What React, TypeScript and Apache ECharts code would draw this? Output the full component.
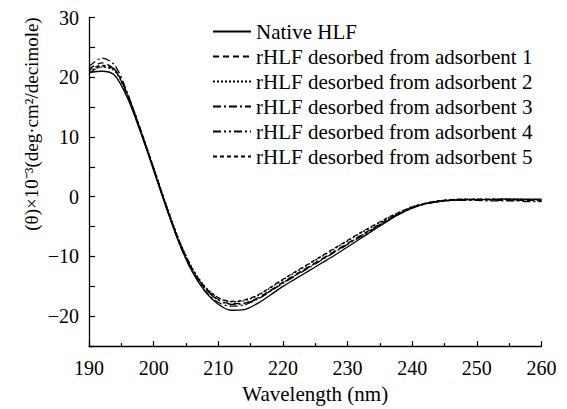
import React, { useEffect, useRef } from "react";
import * as echarts from "echarts";

const wavelengths = [190, 192, 194, 196, 198, 200, 202, 204, 206, 208, 210, 212, 214, 216, 218, 220, 222, 224, 226, 228, 230, 232, 234, 236, 238, 240, 242, 244, 246, 248, 250, 252, 254, 256, 258, 260];

const nativeHLF = [20.8, 21.0, 20.3, 16.4, 10.7, 4.4, -2.0, -7.9, -12.6, -15.9, -18.0, -19.0, -18.9, -17.9, -16.5, -15.0, -13.7, -12.4, -11.1, -9.8, -8.4, -7.0, -5.6, -4.2, -2.9, -1.9, -1.2, -0.8, -0.6, -0.5, -0.5, -0.5, -0.4, -0.4, -0.4, -0.4];
const ads1 = [21.4, 22.4, 21.2, 16.8, 11.0, 4.6, -1.8, -7.7, -12.3, -15.4, -17.2, -17.9, -17.8, -17.0, -15.7, -14.3, -13.0, -11.7, -10.4, -9.1, -7.8, -6.5, -5.2, -3.9, -2.8, -1.8, -1.2, -0.8, -0.6, -0.5, -0.5, -0.5, -0.5, -0.6, -0.6, -0.6];
const ads2 = [21.0, 21.7, 21.0, 16.9, 11.2, 4.9, -1.5, -7.4, -12.0, -15.1, -16.9, -17.6, -17.4, -16.6, -15.3, -13.9, -12.6, -11.3, -10.0, -8.7, -7.4, -6.1, -4.9, -3.7, -2.6, -1.7, -1.1, -0.7, -0.5, -0.4, -0.4, -0.4, -0.4, -0.4, -0.5, -0.5];
const ads3 = [21.8, 23.2, 22.0, 17.2, 11.1, 4.6, -1.9, -7.9, -12.6, -15.8, -17.7, -18.3, -18.1, -17.2, -15.9, -14.5, -13.2, -11.9, -10.6, -9.3, -8.0, -6.7, -5.4, -4.1, -2.9, -1.9, -1.2, -0.8, -0.6, -0.6, -0.6, -0.7, -0.7, -0.7, -0.8, -0.8];
const ads4 = [20.6, 21.8, 21.3, 17.0, 11.0, 4.7, -1.7, -7.6, -12.2, -15.4, -17.3, -18.0, -17.9, -17.1, -15.8, -14.4, -13.1, -11.8, -10.5, -9.2, -7.9, -6.6, -5.3, -4.0, -2.8, -1.8, -1.2, -0.8, -0.6, -0.5, -0.5, -0.5, -0.6, -0.6, -0.6, -0.7];
const ads5 = [21.2, 22.0, 21.3, 17.0, 11.1, 4.8, -1.6, -7.5, -12.1, -15.2, -16.9, -17.5, -17.3, -16.5, -15.2, -13.8, -12.5, -11.2, -9.9, -8.6, -7.3, -6.0, -4.8, -3.6, -2.6, -1.7, -1.1, -0.7, -0.5, -0.4, -0.4, -0.4, -0.4, -0.5, -0.5, -0.5];

const seriesNames = [
  "Native HLF",
  "rHLF desorbed from adsorbent 1",
  "rHLF desorbed from adsorbent 2",
  "rHLF desorbed from adsorbent 3",
  "rHLF desorbed from adsorbent 4",
  "rHLF desorbed from adsorbent 5",
];
const seriesValues = [nativeHLF, ads1, ads2, ads3, ads4, ads5];
const dashTypes: any[] = ["solid", [6, 4], [2, 2], [8, 3, 2, 3], [8, 3, 2, 3, 2, 3], [4, 3]];

const xTicks = [190, 200, 210, 220, 230, 240, 250, 260];
const yTicks = [-20, -10, 0, 10, 20, 30];

const FONT = "'Liberation Serif', 'Times New Roman', serif";

export default function App() {
  const ref = useRef<HTMLDivElement>(null);
  useEffect(() => {
    document.body.style.margin = "0";
    if (!ref.current) return;
    const chart = echarts.init(ref.current, undefined, { renderer: "svg" });
    const option: any = {
      animation: false,
      backgroundColor: "#fff",
      grid: { left: 89, right: 25.5, top: 17.5, bottom: 59.7, containLabel: false },
      legend: {
        orient: "vertical",
        left: 207,
        top: 16,
        itemWidth: 38,
        itemHeight: 14,
        itemGap: 4,
        itemStyle: { opacity: 0, borderWidth: 0 },
        textStyle: { fontFamily: FONT, fontSize: 21, color: "#000" },
        data: seriesNames,
      },
      xAxis: {
        type: "value",
        min: xTicks[0],
        max: xTicks[xTicks.length - 1],
        interval: 10,
        name: "Wavelength (nm)",
        nameLocation: "middle",
        nameGap: 27,
        nameTextStyle: { fontFamily: FONT, fontSize: 21, color: "#000" },
        axisLine: { onZero: false, lineStyle: { color: "#000", width: 1.3 } },
        axisTick: { inside: true, length: 5, lineStyle: { color: "#000", width: 1.2 } },
        minorTick: { show: true, splitNumber: 2, length: 3, lineStyle: { color: "#000", width: 1.2 } },
        splitLine: { show: false },
        minorSplitLine: { show: false },
        axisLabel: { fontFamily: FONT, fontSize: 20, color: "#000", margin: 12 },
      },
      yAxis: {
        type: "value",
        min: -25,
        max: 30,
        interval: 5,
        axisLine: { show: true, onZero: false, lineStyle: { color: "#000", width: 1.3 } },
        axisTick: { show: true, inside: true, length: 6, lineStyle: { color: "#000", width: 1.2 } },
        splitLine: { show: false },
        axisLabel: {
          fontFamily: FONT,
          fontSize: 20,
          color: "#000",
          margin: 10,
          formatter: (v: number) =>
            yTicks.indexOf(v) >= 0 ? (v < 0 ? "\u2212" + Math.abs(v) : String(v)) : "",
        },
      },
      graphic: [
        {
          type: "text",
          x: 31,
          y: 124,
          rotation: Math.PI / 2,
          style: {
            text: "(\u03b8)\u00d710\u207b\u00b3(deg\u00b7cm\u00b2/decimole)",
            fontFamily: FONT,
            fontSize: 19,
            fill: "#000",
            align: "center",
            verticalAlign: "middle",
          },
        },
      ],
      series: seriesNames.map((name, k) => ({
        name,
        type: "line",
        smooth: 0.3,
        symbol: "none",
        showSymbol: false,
        lineStyle: { color: "#000", width: 1.3, type: dashTypes[k] },
        itemStyle: { color: "#000" },
        data: wavelengths.map((w, i) => [w, seriesValues[k][i]]),
      })),
    };
    chart.setOption(option);
    return () => chart.dispose();
  }, []);
  return <div ref={ref} style={{ width: 567, height: 409 }} />;
}
